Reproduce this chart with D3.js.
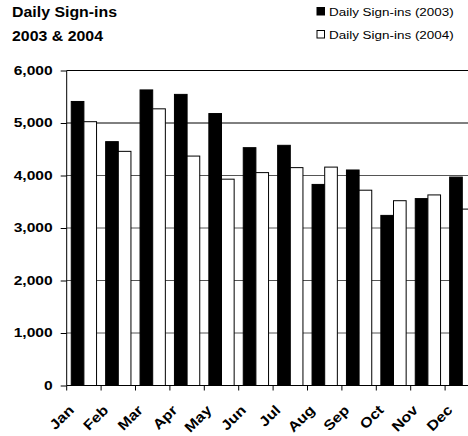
<!DOCTYPE html>
<html lang="en">
<meta charset="UTF-8">
<title>Daily Sign-ins 2003 & 2004</title>
<script src="https://d3js.org/d3.v7.min.js"></script>
<style>
  html, body { margin: 0; padding: 0; background: #fff; }
  body { font-family: "Liberation Sans", Arial, sans-serif; }
  svg { display: block; overflow: hidden; }
</style>
<body>
<div id="chart"></div>
<script>
// data
var months = ["Jan", "Feb", "Mar", "Apr", "May", "Jun", "Jul", "Aug", "Sep", "Oct", "Nov", "Dec"];
var series = ["Daily Sign-ins (2003)", "Daily Sign-ins (2004)"];
var signins2003 = [5410, 4645, 5630, 5545, 5180, 4530, 4575, 3830, 4105, 3240, 3560, 3970];
var signins2004 = [5025, 4460, 5270, 4370, 3930, 4055, 4150, 4160, 3720, 3520, 3630, 3360];
var yTicks = [0, 1000, 2000, 3000, 4000, 5000, 6000];

var width = 468, height = 436;
var plot = {left: 66.7, right: 479.5, top: 70.5, bottom: 385.5};

var svg = d3.select("#chart").append("svg")
  .attr("width", width)
  .attr("height", height);

var x = d3.scaleBand()
  .domain(months)
  .range([plot.left, plot.right]);

var xSub = d3.scaleBand()
  .domain(series)
  .range([0, x.bandwidth()])
  .paddingOuter(0.36);

var y = d3.scaleLinear()
  .domain([0, 6000])
  .range([plot.bottom, plot.top]);

// gridlines
svg.append("g")
  .selectAll("line")
  .data(yTicks.filter(function (d) { return d > 0; }))
  .enter().append("line")
    .attr("x1", plot.left).attr("x2", plot.right)
    .attr("y1", function (d) { return y(d); })
    .attr("y2", function (d) { return y(d); })
    .attr("stroke", function (d) { return d >= 5000 ? "#000" : "#555"; })
    .attr("stroke-width", 1);

// bars
var rows = months.map(function (m, i) {
  return {month: m, values: [signins2003[i], signins2004[i]]};
});
var colors = ["#000", "#fff"];

svg.append("g")
  .selectAll("g")
  .data(rows)
  .enter().append("g")
    .attr("transform", function (d) { return "translate(" + x(d.month) + ",0)"; })
  .selectAll("rect")
  .data(function (d) { return d.values.map(function (v, i) { return {s: series[i], v: v, i: i}; }); })
  .enter().append("rect")
    .attr("x", function (d) { return xSub(d.s); })
    .attr("width", xSub.bandwidth())
    .attr("y", function (d) { return y(d.v); })
    .attr("height", function (d) { return y(0) - y(d.v); })
    .attr("fill", function (d) { return colors[d.i]; })
    .attr("stroke", "#000")
    .attr("stroke-width", 1);

// y axis (labels are a bit stretched sideways in the original)
var yAxis = svg.append("g")
  .attr("transform", "translate(" + plot.left + ",0)")
  .call(d3.axisLeft(y).tickValues(yTicks).tickSize(6).tickPadding(8)
    .tickFormat(d3.format(",")));
yAxis.selectAll("text")
  .attr("x", 0)
  .attr("transform", "translate(-14,0) scale(1.3,1)")
  .style("font-family", "Liberation Sans, Arial, sans-serif")
  .style("font-size", "12px")
  .style("font-weight", "bold")
  .attr("fill", "#000");
yAxis.select(".domain").attr("d", "M0," + plot.top + "V" + plot.bottom);

// x axis line with ticks between months
var xAxis = svg.append("g");
xAxis.append("line")
  .attr("x1", plot.left).attr("x2", plot.right)
  .attr("y1", plot.bottom).attr("y2", plot.bottom)
  .attr("stroke", "#000");
xAxis.selectAll("line.tick")
  .data(months)
  .enter().append("line")
    .attr("class", "tick")
    .attr("x1", function (d) { return x(d); })
    .attr("x2", function (d) { return x(d); })
    .attr("y1", plot.bottom).attr("y2", plot.bottom + 5)
    .attr("stroke", "#000");
xAxis.selectAll("text")
  .data(months)
  .enter().append("text")
    .attr("transform", function (d) {
      return "translate(" + (x(d) + x.bandwidth() / 2 - 9) + "," + (plot.bottom + 25.5) + ") rotate(-45) scale(1.15,1)";
    })
    .style("text-anchor", "end")
    .style("font-size", "14px")
    .style("font-weight", "bold")
    .text(function (d) { return d; });

// title
var title = svg.append("text")
  .attr("transform", "translate(12,0) scale(1.12,1)")
  .style("font-size", "14.2px")
  .style("font-weight", "bold");
title.append("tspan").attr("x", 0).attr("y", 17.5).text("Daily Sign-ins");
title.append("tspan").attr("x", 0).attr("y", 41).text("2003 & 2004");

// legend
var legend = svg.append("g")
  .selectAll("g")
  .data(series)
  .enter().append("g")
    .attr("transform", function (d, i) { return "translate(317," + (7.5 + i * 23) + ")"; });
legend.append("rect")
  .attr("width", 7.5).attr("height", 7.5)
  .attr("fill", function (d, i) { return colors[i]; })
  .attr("stroke", "#000");
legend.append("text")
  .attr("transform", "translate(12,8) scale(1.17,1)")
  .style("font-size", "11.5px")
  .text(function (d) { return d; });
</script>
</body>
</html>
